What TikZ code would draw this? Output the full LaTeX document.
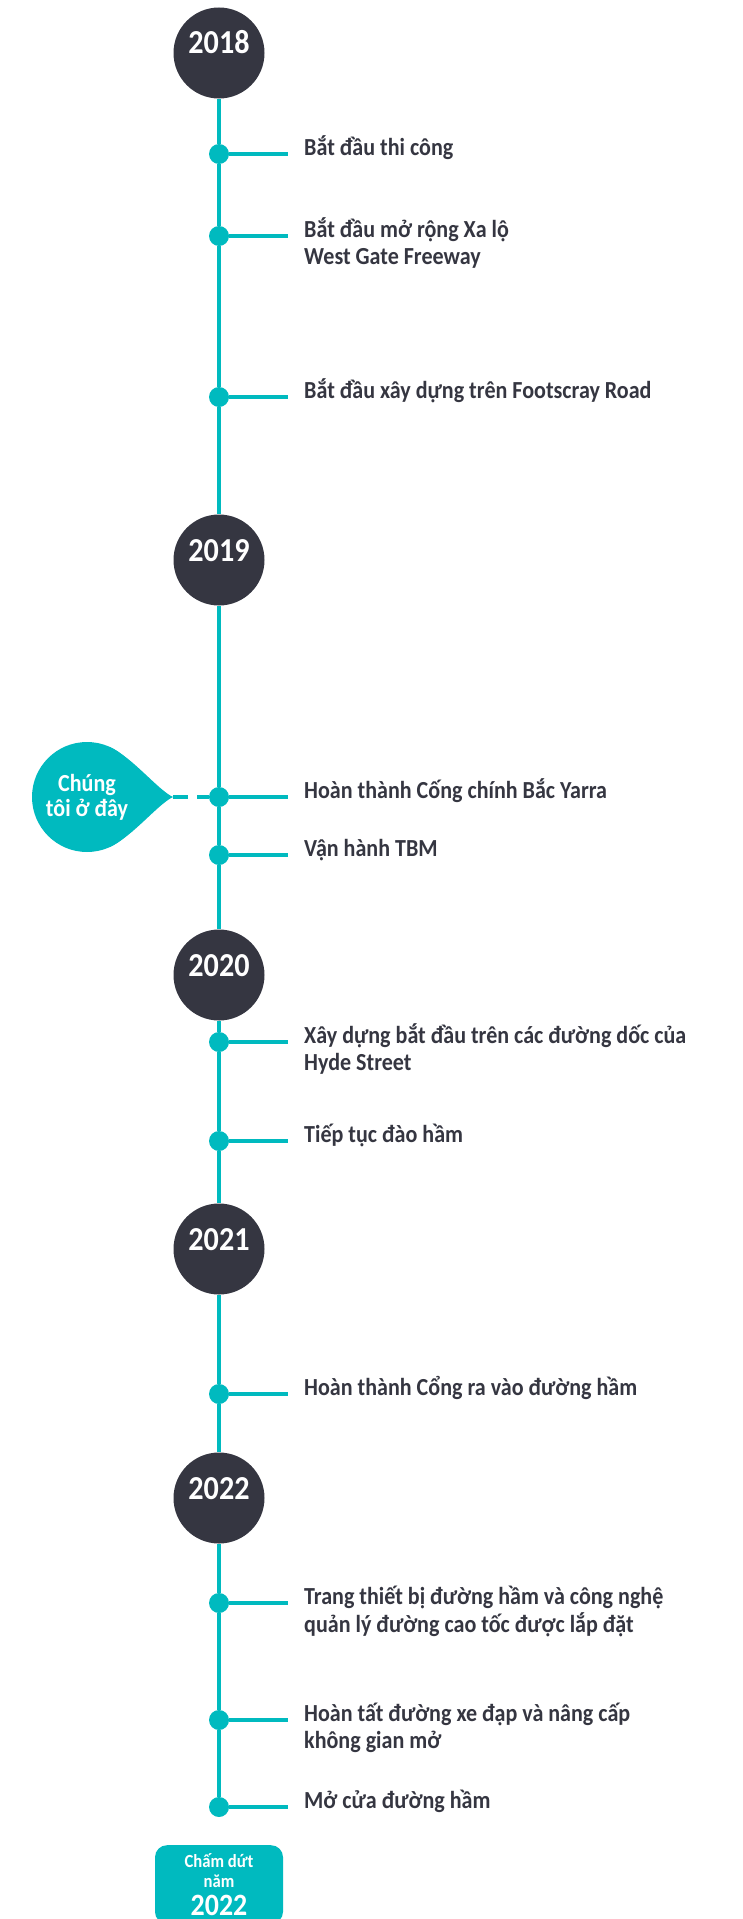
\documentclass[tikz,border=0pt]{standalone}
\usepackage{fontspec}
\setmainfont{Carlito}[FakeStretch=0.9]
\usetikzlibrary{positioning}

\definecolor{tealline}{RGB}{0,186,191}
\definecolor{darkyear}{RGB}{53,54,65}

\begin{document}
\begin{tikzpicture}[
    x=1pt, y=-1pt, % pixel-like coordinates, y grows downwards
    % Styles for the year circles and the events
    year/.style={circle, fill=darkyear, text=white, inner sep=0pt,
        minimum size=91pt, text height=21pt, text depth=19pt,
        font=\fontsize{33.5}{33.5}\selectfont\bfseries},
    dot/.style={circle, fill=tealline, inner sep=0pt, minimum size=20pt},
    axis/.style={draw=tealline, line width=4pt},
    branch/.style={draw=tealline, line width=3.5pt},
    event/.style={text=darkyear, inner sep=0pt,
        font=\fontsize{24.5}{27}\selectfont\bfseries},
    bubble/.style={circle, fill=tealline, text=white, align=center, inner sep=0pt,
        minimum size=110pt, font=\fontsize{24.5}{25}\selectfont\bfseries},
    endbox/.style={rectangle, rounded corners=12pt, fill=tealline, text=white,
        align=center, minimum width=128pt, inner ysep=8pt,
        font=\fontsize{18.5}{20}\selectfont\bfseries}
]

\useasboundingbox (0,0) rectangle (743,1919);

% A dot on the axis, a short branch and the text of the event
% (the text is a top-aligned tabular so that its first line sits on the branch)
\newcommand{\milestone}[3]{
    \node [dot] (#1) at (219,#2) {};
    \coordinate (#1-end) at (288,#2);
    \draw [branch] (#1) -- (#1-end);
    \node [event, anchor=base west] (#1-text) at (304,#2+1.5)
        {\begin{tabular}[t]{@{}l@{}}#3\end{tabular}};
}

% Years
\node [year] (y2018) at (219,53) {2018};
\node [year] (y2019) at (219,560) {2019};
\node [year] (y2020) at (219,975) {2020};
\node [year] (y2021) at (219,1249) {2021};
\node [year] (y2022) at (219,1498) {2022};

% Events
\milestone{e1}{154}{Bắt đầu thi công}
\milestone{e2}{236}{Bắt đầu mở rộng Xa lộ\\West Gate Freeway}
\milestone{e3}{397}{Bắt đầu xây dựng trên Footscray Road}
\milestone{e4}{797}{Hoàn thành Cống chính Bắc Yarra}
\milestone{e5}{855}{Vận hành TBM}
\milestone{e6}{1042}{Xây dựng bắt đầu trên các đường dốc của\\Hyde Street}
\milestone{e7}{1141}{Tiếp tục đào hầm}
\milestone{e8}{1394}{Hoàn thành Cổng ra vào đường hầm}
\milestone{e9}{1603}{Trang thiết bị đường hầm và công nghệ\\quản lý đường cao tốc được lắp đặt}
\milestone{e10}{1720}{Hoàn tất đường xe đạp và nâng cấp\\không gian mở}
\milestone{e11}{1807}{Mở cửa đường hầm}

% The axis, from node to node
\draw [axis] (y2018) -- (e1) -- (e2) -- (e3) -- (y2019) -- (e4) -- (e5) -- (y2020)
    -- (e6) -- (e7) -- (y2021) -- (e8) -- (y2022) -- (e9) -- (e10) -- (e11);

% "We are here" marker
\fill [tealline] (110.2,747.2) .. controls (133,758) and (158,790) .. (173,797)
    .. controls (158,804) and (133,836) .. (110.2,846.8) -- cycle;
\node [bubble] (here) at (87,797) {Chúng\\tôi ở đây};
\coordinate (here-tip) at (173,797);
\draw [tealline, line width=3.5pt, dash pattern=on 15pt off 9pt] (here-tip) -- (e4);

% End of works
\node [endbox, anchor=north] (finish) at (219,1845)
    {Chấm dứt\\năm\\[7pt]\fontsize{31}{27}\selectfont 2022};

\end{tikzpicture}
\end{document}
